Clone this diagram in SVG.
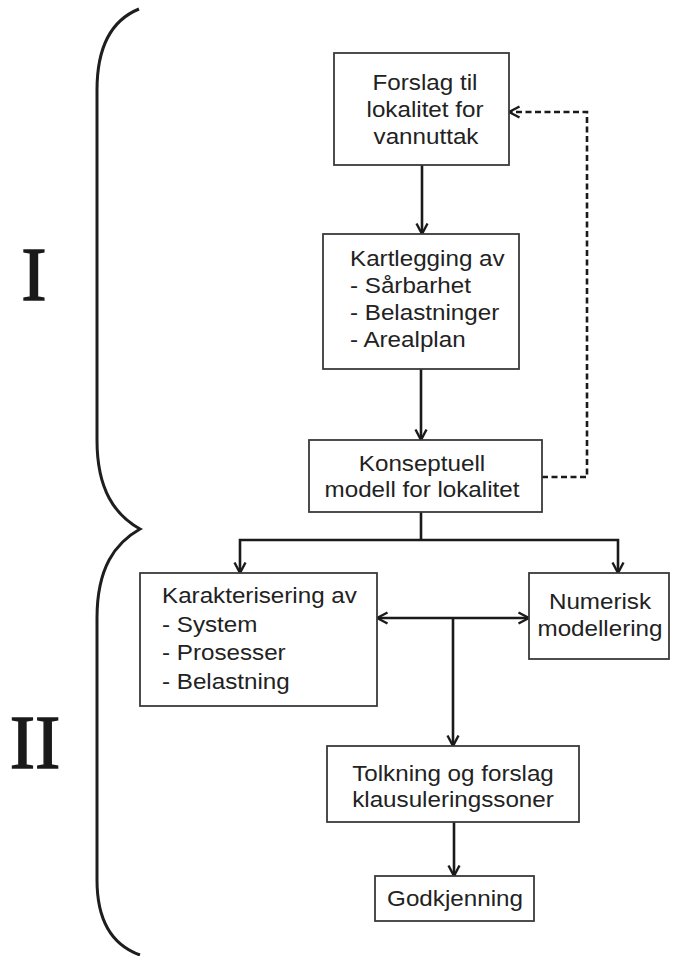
<svg xmlns="http://www.w3.org/2000/svg" width="692" height="956" viewBox="0 0 692 956">
<style>
.box{fill:#fff;stroke:#3a3a3a;stroke-width:1.8}
.t{font-family:"Liberation Sans",Arial,sans-serif;font-size:22px;fill:#222}
.c{text-anchor:middle}
.ln{fill:none;stroke:#1a1a1a;stroke-width:2.6}
.dash{fill:none;stroke:#1a1a1a;stroke-width:2.6;stroke-dasharray:6,3.5}
.rom{font-family:"Liberation Serif","Times New Roman",serif;font-size:76px;fill:#1a1a1a;stroke:#1a1a1a;stroke-width:1.4;text-anchor:middle}
</style>
<defs>
<marker id="arr" markerUnits="userSpaceOnUse" viewBox="0 0 14 14" refX="12.5" refY="7" markerWidth="14" markerHeight="14" orient="auto-start-reverse">
<path d="M2,1.5 L12.5,7 L2,12.5" fill="none" stroke="#1a1a1a" stroke-width="2.4"/>
</marker>
</defs>
<rect width="692" height="956" fill="#fff"/>
<g id="brace">
<path d="M139,9 C112,20 97,45 97,90 L97,440 C97,490 115,515 140,529 C115,543 97,568 97,618 L97,880 C97,920 112,945 140,955" fill="none" stroke="#1e1e1e" stroke-width="3"/>
<text class="rom" x="34" y="300">I</text>
<text class="rom" x="35" y="768">II</text>
</g>
<g id="connectors">
<line class="ln" x1="422" y1="165" x2="422" y2="234" marker-end="url(#arr)"/>
<line class="ln" x1="421" y1="369" x2="421" y2="440" marker-end="url(#arr)"/>
<polyline class="dash" points="542,477 587,477 587,112 509,112" marker-end="url(#arr)"/>
<line class="ln" x1="421" y1="512" x2="421" y2="540"/>
<polyline class="ln" points="240,573 240,540 618,540 618,573" marker-end="url(#arr)" marker-start="url(#arr)"/>
<line class="ln" x1="377" y1="618" x2="529" y2="618" marker-end="url(#arr)" marker-start="url(#arr)"/>
<line class="ln" x1="453" y1="618" x2="453" y2="746" marker-end="url(#arr)"/>
<line class="ln" x1="454" y1="822" x2="454" y2="876" marker-end="url(#arr)"/>
</g>
<g id="n1">
<rect class="box" x="334" y="53" width="175" height="112"/>
<text class="t c" transform="translate(425,0) scale(1.1,1)" x="0" y="90">Forslag til</text>
<text class="t c" transform="translate(425,0) scale(1.1,1)" x="0" y="117">lokalitet for</text>
<text class="t c" transform="translate(426,0) scale(1.1,1)" x="0" y="144">vannuttak</text>
</g>
<g id="n2">
<rect class="box" x="323" y="234" width="196" height="135"/>
<text class="t" transform="translate(350,0) scale(1.1,1)" x="0" y="266">Kartlegging av</text>
<text class="t" transform="translate(350,0) scale(1.1,1)" x="0" y="293">- Sårbarhet</text>
<text class="t" transform="translate(350,0) scale(1.1,1)" x="0" y="320">- Belastninger</text>
<text class="t" transform="translate(350,0) scale(1.1,1)" x="0" y="347">- Arealplan</text>
</g>
<g id="n3">
<rect class="box" x="309" y="440" width="233" height="72"/>
<text class="t c" transform="translate(422,0) scale(1.1,1)" x="0" y="471">Konseptuell</text>
<text class="t c" transform="translate(422,0) scale(1.1,1)" x="0" y="497">modell for lokalitet</text>
</g>
<g id="n4">
<rect class="box" x="140" y="573" width="237" height="133"/>
<text class="t" transform="translate(162,0) scale(1.1,1)" x="0" y="603">Karakterisering av</text>
<text class="t" transform="translate(162,0) scale(1.1,1)" x="0" y="632">- System</text>
<text class="t" transform="translate(162,0) scale(1.1,1)" x="0" y="660">- Prosesser</text>
<text class="t" transform="translate(162,0) scale(1.1,1)" x="0" y="689">- Belastning</text>
</g>
<g id="n5">
<rect class="box" x="529" y="573" width="140" height="86"/>
<text class="t c" transform="translate(600,0) scale(1.1,1)" x="0" y="609">Numerisk</text>
<text class="t c" transform="translate(600,0) scale(1.1,1)" x="0" y="636">modellering</text>
</g>
<g id="n6">
<rect class="box" x="327" y="746" width="252" height="76"/>
<text class="t c" transform="translate(453,0) scale(1.1,1)" x="0" y="781">Tolkning og forslag</text>
<text class="t c" transform="translate(453,0) scale(1.1,1)" x="0" y="807">klausuleringssoner</text>
</g>
<g id="n7">
<rect class="box" x="375" y="876" width="159" height="45"/>
<text class="t c" transform="translate(455,0) scale(1.1,1)" x="0" y="906">Godkjenning</text>
</g>
</svg>
